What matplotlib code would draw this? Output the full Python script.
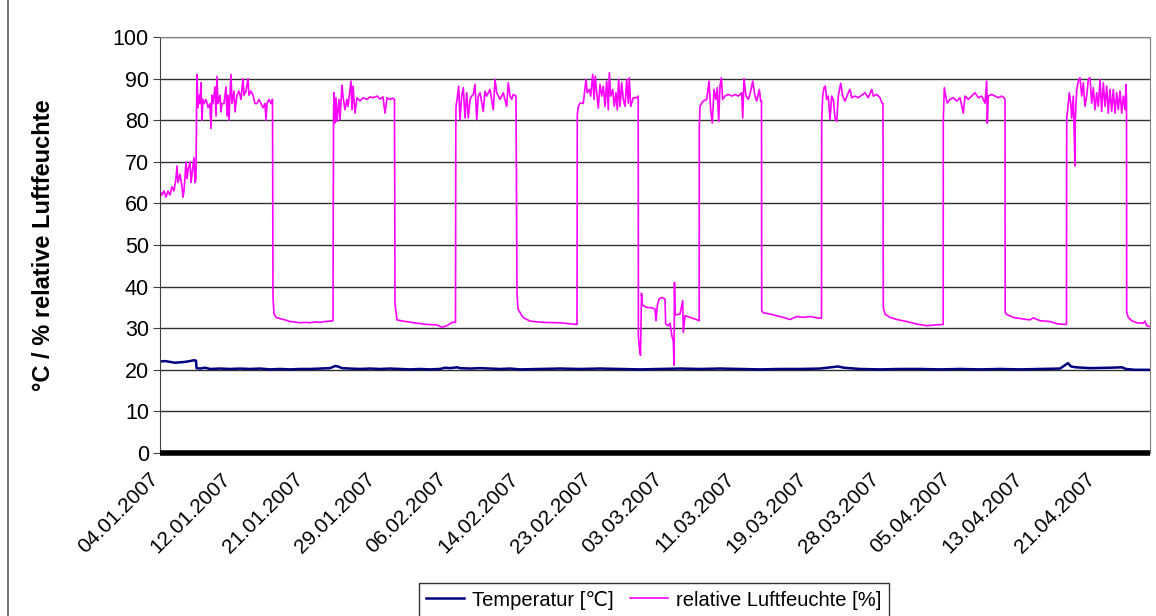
import matplotlib
matplotlib.use("Agg")
import matplotlib.pyplot as plt
from matplotlib.lines import Line2D
from matplotlib.transforms import ScaledTranslation

plt.rcParams['font.family'] = ['Liberation Sans', 'DejaVu Sans']

# ---- tick labels (category axis, one label every 72 samples) ----
date_labels = ["04.01.2007", "12.01.2007", "21.01.2007", "29.01.2007", "06.02.2007",
               "14.02.2007", "23.02.2007", "03.03.2007", "11.03.2007", "19.03.2007",
               "28.03.2007", "05.04.2007", "13.04.2007", "21.04.2007"]
label_step = 72
n_samples = 990

# ---- relative humidity [%] : sample index / value ----
hum_idx = [
    0, 2, 4, 6, 8, 10, 12, 14, 16, 17, 18, 20, 22, 23, 24, 26, 27, 28, 30, 31, 33, 34, 35, 36,
    36.5, 37, 38, 39, 40, 41, 42, 43, 44, 46, 48, 50, 51, 52, 53, 55, 56, 57, 58, 60, 61, 62, 64, 66,
    67, 68, 69, 70, 71, 72, 74, 75, 77, 79, 81, 83, 84, 86, 88, 89, 91, 93, 95, 97, 99, 101, 103,
    105, 106, 107, 109, 111, 112.5,
    113, 114, 116, 120, 125, 130, 135, 140, 145, 150, 155, 160, 165, 170, 173,
    173.5, 174, 175, 176, 177, 179, 180, 182, 183, 185, 187, 188, 191, 192, 193, 195, 197, 200, 203,
    207, 210, 213, 217, 220, 223, 225, 227, 230, 233, 234.5,
    235, 237, 243, 257, 267, 277, 282, 287, 292, 295.5,
    295.8, 296, 297.3, 298.7, 300, 301.7, 303.3, 305, 306.7, 308.3, 310, 311.7, 313.3, 315, 316.7,
    318.3, 320, 323.3, 325, 326.7, 330, 333.3, 335, 336.7, 340, 343.3, 346.7, 348.3, 350, 351.7,
    353.3, 356,
    357, 358, 363, 370, 383, 400, 417,
    417.3, 418.3, 420, 423.3, 426, 427.3, 429.3, 430.7, 432.7, 434, 435.3, 436.7, 438.3, 440, 441.7,
    443.3, 445, 446.7, 448.3, 449.3, 450.7, 452.7, 454.3, 456, 457.3, 458.7, 460, 461.7, 463.3, 465,
    466.7, 468.3, 469.3, 470.7, 473.3, 476.7, 478.2,
    478.4, 479.5, 480.5, 481.5, 482.5, 486.7, 491.7, 495, 496, 497.3, 499, 501.7, 505, 505.7, 508.3,
    510, 512, 513.3, 514, 514.5, 515, 520, 522.7, 523.3, 525, 530, 535, 539.2,
    539.3, 540, 541.7, 543.3, 546.7, 549, 550.7, 552.3, 554, 556, 557.3, 558.7, 560, 561.3, 562.7,
    565, 568.3, 571.7, 575, 578.3, 581.7, 582.7, 584, 586, 588.3, 590.7, 592.7, 595, 596.7, 599.3,
    600.7, 601.5,
    601.7, 603.3, 610, 616.7, 623.3, 630, 636.7, 643.3, 650, 656.7, 661.5,
    661.7, 662.7, 664, 665.3, 666.7, 668.3, 670, 671.7, 673.3, 675, 676.7, 678.3, 680.7, 682.7, 685,
    688.3, 690, 691.7, 695, 698.3, 701.7, 705, 708.3, 711.7, 713.3, 716.7, 720, 722, 723,
    723.3, 725, 730, 736.7, 746.7, 756.7, 766.7, 776.7, 783.2,
    783.3, 784.3, 785.7, 787.3, 790, 793.3, 796.7, 800, 803.3, 805, 808.3, 811.7, 815, 818.3, 821.7,
    825, 826.7, 827.3, 828.3, 831.7, 835, 838.3, 841.7, 844, 845,
    845.2, 846.7, 853.3, 863.3, 870, 873.3, 880, 890, 898.3, 906.5,
    906.7, 907.7, 909.3, 910.7, 911.7, 913.3, 915, 915.3, 916.7, 918.3, 920, 921.7, 923.3, 925, 926.7,
    928.3, 930, 931.7, 933.3, 935, 936.7, 938.3, 940, 941.7, 943.3, 945, 946.7, 948.3, 950, 951.7,
    953.3, 955, 956.7, 958.3, 960, 961.7, 963.3, 965, 966, 966.5,
    966.7, 968.3, 971.7, 976.7, 983.3, 985, 986.7, 990,
]
hum_val = [
    63, 62, 63, 61.5, 63, 62, 64, 63, 66, 69, 65, 67, 64, 61.5, 63, 70, 66, 68, 70, 65, 69, 71, 65, 66,
    81, 91, 83, 86, 84, 89, 80, 85, 84, 85, 83, 84, 78, 86, 84, 88, 81, 90.5, 84, 86, 82, 84, 84, 88,
    81, 86, 80, 86, 91, 84, 87, 82, 86, 87, 85, 90, 86, 87, 90, 86, 87, 86, 84, 84, 85, 84, 83,
    84, 80, 84, 85, 84, 85,
    37.5, 33.5, 32.6, 32.3, 32.0, 31.6, 31.5, 31.3, 31.4, 31.3, 31.5, 31.4, 31.6, 31.7, 31.8,
    81, 86.6, 79.3, 85.4, 79.7, 85, 80.1, 88.4, 85.8, 82.5, 85, 83.3, 89.4, 82.5, 88.2, 81.7, 85.4, 84.6, 85.4,
    85, 85.6, 85.4, 85.8, 85.1, 85.6, 81.7, 85.4, 85, 85.3, 85,
    35.8, 32, 31.7, 31.2, 30.9, 30.8, 30.2, 30.6, 31.4, 31.4,
    78, 83.3, 85.4, 88.2, 80.1, 85.8, 87.8, 80.5, 86.6, 80.5, 85.0, 85.8, 86.2, 88.6, 80.1,
    85.8, 86.6, 82.1, 87.0, 85.8, 87.4, 82.5, 89.8, 86.6, 85.0, 86.6, 83.3, 89.0, 85.8, 85.0,
    86.2, 85.8,
    38.2, 34.6, 32.6, 31.7, 31.4, 31.3, 30.9,
    81.3, 83.3, 84.1, 84.1, 89.8, 86.6, 87.4, 85.8, 91, 85.0, 90.6, 86.6, 82.9, 88.6, 85.8,
    88.2, 83.3, 89.4, 82.5, 91.4, 85.8, 87.4, 83.3, 86.6, 82.5, 89.8, 83.3, 89.0, 85.0, 83.3,
    89.8, 84.1, 90.2, 83.3, 85.4, 85.4, 85.8,
    28, 25, 23.5, 38.4, 35.5, 35, 34.9, 34.6, 31.8, 35.4, 37, 37.4, 37, 31, 30.6,
    31.2, 28, 27, 21.1, 41, 33.2, 33.4, 36.6, 29, 33, 32.6, 32.2, 31.8,
    78.5, 83.3, 84.1, 84.6, 85.0, 89.4, 82.5, 79.3, 87.4, 85.0, 87.8, 79.7, 88.2, 90.2, 85.0,
    85.8, 86.2, 85.8, 86.2, 85.8, 86.6, 80.5, 90.0, 85.8, 85.0, 87.0, 89.4, 85.8, 84.6, 87.4,
    84.6, 84.6,
    34.2, 33.7, 33.4, 33.0, 32.6, 32.1, 32.8, 32.6, 32.8, 32.5, 32.4,
    80, 85.8, 87.8, 88.2, 85.0, 85.8, 80.1, 85.8, 85.0, 80.5, 79.7, 85.8, 88.9, 85.8, 84.6,
    86.6, 87.4, 85.4, 85.8, 85.4, 86.0, 86.6, 85.4, 87.4, 85.8, 86.2, 85.4, 84.1, 84,
    35, 33.4, 32.6, 32.1, 31.6, 31.0, 30.6, 30.8, 30.9,
    80.1, 87.8, 85.8, 84.1, 85.0, 85.4, 84.6, 85.4, 81.7, 85.8, 85.0, 85.8, 86.6, 85.4, 85.8,
    84.1, 89.4, 79.3, 85.8, 86.2, 85.8, 85.4, 85.8, 85.4, 85,
    33.8, 33.3, 32.6, 32.2, 32.0, 32.5, 31.8, 31.6, 31.0, 30.9,
    80.5, 82.5, 86.6, 84.1, 80.5, 85.8, 69, 80, 87.4, 89.4, 90.2, 85.8, 89.0, 83.3, 85.8,
    89.8, 90.2, 84.1, 87.8, 82.5, 86.6, 83.3, 89.8, 82.1, 89.0, 83.3, 88.2, 81.7, 87.4, 82.1,
    87.4, 81.7, 86.6, 82.5, 87.0, 81.7, 85.8, 82.5, 88.6, 85,
    33.8, 32.6, 31.8, 31.3, 31.2, 31.7, 30.6, 30.4,
]

# ---- temperature [°C] ----
temp_idx = [0, 5, 10, 15, 20, 25, 30, 34, 36, 36.5, 40, 45, 50, 60, 70, 80, 90, 100, 110, 120, 130,
            140, 150, 160, 170, 175, 178, 182, 190, 200, 210, 220, 230, 240, 250, 260, 270, 280, 285,
            290, 297, 300, 310, 320, 330, 340, 350, 360, 380, 400, 420, 440, 460, 480, 500, 520, 540,
            560, 580, 600, 620, 640, 660, 678, 684, 700, 720, 740, 760, 780, 800, 820, 840, 860, 880,
            900, 908, 911, 916, 930, 950, 962, 966, 975, 990]
temp_val = [22.0, 22.1, 21.9, 21.7, 21.8, 21.9, 22.1, 22.3, 22.2, 20.4, 20.3, 20.5, 20.2, 20.3, 20.2,
            20.3, 20.2, 20.3, 20.1, 20.2, 20.1, 20.2, 20.2, 20.3, 20.4, 20.9, 20.8, 20.4, 20.3, 20.2,
            20.3, 20.2, 20.3, 20.2, 20.1, 20.2, 20.1, 20.2, 20.5, 20.4, 20.6, 20.4, 20.3, 20.4, 20.3,
            20.2, 20.3, 20.1, 20.2, 20.3, 20.2, 20.3, 20.2, 20.1, 20.2, 20.3, 20.2, 20.3, 20.2, 20.1,
            20.2, 20.2, 20.3, 20.8, 20.5, 20.2, 20.1, 20.2, 20.2, 20.1, 20.2, 20.1, 20.2, 20.1, 20.2,
            20.3, 21.6, 20.8, 20.6, 20.4, 20.5, 20.6, 20.2, 20.0, 20.0]

# ---- third (unlabelled) series at zero ----
zero_idx = [0, 990]
zero_val = [0, 0]

W, H = 1156, 616
fig = plt.figure(figsize=(W / 100, H / 100), dpi=100)
ax = fig.add_axes([160 / W, 1 - 453 / H, 990 / W, (453 - 37) / H])

ax.plot(temp_idx, temp_val, color='#000080', lw=1.8, label='Temperatur [℃]')
ax.plot(hum_idx, hum_val, color='#FF00FF', lw=1.2, label='relative Luftfeuchte [%]')
ax.plot(zero_idx, zero_val, color='black', lw=4, solid_capstyle='butt', clip_on=False,
        label='_nolegend_', zorder=5)

ax.set_xlim(0, n_samples)
ax.set_ylim(0, 100)
ax.set_yticks(range(0, 101, 10))
ax.yaxis.grid(True, color='#303030', lw=1)
ax.set_axisbelow(True)

ax.set_xticks([k * label_step for k in range(len(date_labels))])
ax.set_xticklabels(date_labels, rotation=45, ha='right', rotation_mode='anchor', fontsize=15)
ax.tick_params(axis='x', length=0, pad=12)
shift = ScaledTranslation(-11 / 100, 0, fig.dpi_scale_trans)
for lab in ax.get_xticklabels():
    lab.set_transform(lab.get_transform() + shift)
ax.tick_params(axis='y', length=5, color='#404040', labelsize=15.5, pad=3)

for s in ['left', 'right', 'top', 'bottom']:
    ax.spines[s].set_color('#808080')
ax.spines['left'].set_color('#404040')

ax.set_ylabel('°C / % relative Luftfeuchte', fontsize=17, fontweight='bold')
ax.yaxis.set_label_coords(-0.106, 0.5)

leg = fig.legend(loc='center', bbox_to_anchor=(654 / W, 1 - 600 / H), ncol=2, fontsize=14.5,
                 frameon=True, fancybox=False, edgecolor='black', handlelength=1.9,
                 handletextpad=0.4, columnspacing=0.8, borderpad=0.35)
leg.get_frame().set_linewidth(1.0)

fig.add_artist(Line2D([8 / W, 8 / W], [0, 1], color='#606060', lw=1.2, transform=fig.transFigure))

fig.savefig('out.png', dpi=100)
